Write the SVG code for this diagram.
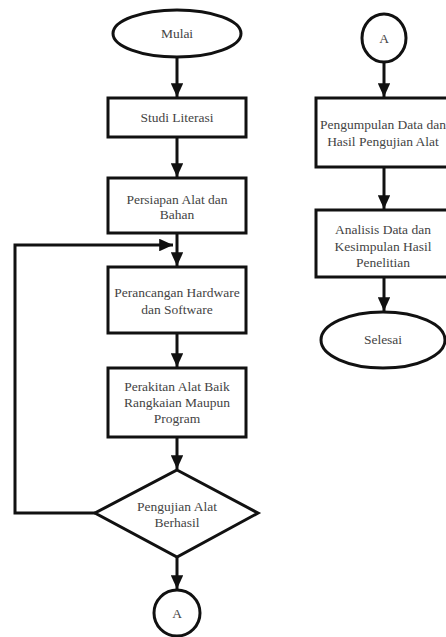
<svg xmlns="http://www.w3.org/2000/svg" width="446" height="637" viewBox="0 0 446 637">
<defs>
<marker id="ah" viewBox="0 0 10 10" refX="10" refY="5" markerWidth="4.6" markerHeight="4.2" orient="auto" markerUnits="strokeWidth" preserveAspectRatio="none">
<path d="M0,0 L10,5 L0,10 Z" fill="#111"/>
</marker>
<style>
.s{fill:#fff;stroke:#111;stroke-width:3}
.c{fill:none;stroke:#111;stroke-width:3;marker-end:url(#ah)}
text{font-family:"Liberation Serif","Times New Roman",serif;font-size:13.5px;fill:#444;text-anchor:middle}
</style>
</defs>
<rect width="446" height="637" fill="#fff"/>
<g id="connectors">
<line class="c" x1="177" y1="57" x2="177" y2="97"/>
<line class="c" x1="177" y1="137" x2="177" y2="177"/>
<line class="c" x1="177" y1="233" x2="177" y2="266"/>
<line class="c" x1="177" y1="333" x2="177" y2="367"/>
<line class="c" x1="177" y1="437" x2="177" y2="469"/>
<line class="c" x1="177" y1="557" x2="177" y2="589"/>
<polyline class="c" points="95,513 15,513 15,245 173,245"/>
<line class="c" x1="384" y1="62" x2="384" y2="97"/>
<line class="c" x1="384" y1="167" x2="384" y2="209"/>
<line class="c" x1="384" y1="277" x2="384" y2="311"/>
</g>
<g id="mulai">
<ellipse class="s" cx="177" cy="33.5" rx="64" ry="23.5"/>
<text x="177" y="38">Mulai</text>
</g>
<g id="studi">
<rect class="s" x="108" y="98" width="138" height="39"/>
<text x="177" y="122">Studi Literasi</text>
</g>
<g id="persiapan">
<rect class="s" x="108" y="178" width="138" height="55"/>
<text x="177" y="204">Persiapan Alat dan</text>
<text x="177" y="219">Bahan</text>
</g>
<g id="perancangan">
<rect class="s" x="108" y="267" width="138" height="66"/>
<text x="177" y="297">Perancangan Hardware</text>
<text x="177" y="314">dan Software</text>
</g>
<g id="perakitan">
<rect class="s" x="108" y="368" width="138" height="69"/>
<text x="177" y="391">Perakitan Alat Baik</text>
<text x="177" y="407">Rangkaian Maupun</text>
<text x="177" y="423">Program</text>
</g>
<g id="pengujian">
<polygon class="s" points="177,470 258,513 177,557 95,513"/>
<text x="177" y="511">Pengujian Alat</text>
<text x="177" y="527">Berhasil</text>
</g>
<g id="connA1">
<circle class="s" cx="177" cy="613" r="23"/>
<text x="177" y="618">A</text>
</g>
<g id="connA2">
<ellipse class="s" cx="384" cy="38" rx="22" ry="24"/>
<text x="384" y="43">A</text>
</g>
<g id="pengumpulan">
<rect class="s" x="316" y="98" width="134" height="69"/>
<text x="383" y="129">Pengumpulan Data dan</text>
<text x="383" y="146">Hasil Pengujian Alat</text>
</g>
<g id="analisis">
<rect class="s" x="316" y="210" width="134" height="67"/>
<text x="383" y="234">Analisis Data dan</text>
<text x="383" y="251">Kesimpulan Hasil</text>
<text x="383" y="267">Penelitian</text>
</g>
<g id="selesai">
<ellipse class="s" cx="383" cy="340" rx="62" ry="28"/>
<text x="383" y="344">Selesai</text>
</g>
</svg>
